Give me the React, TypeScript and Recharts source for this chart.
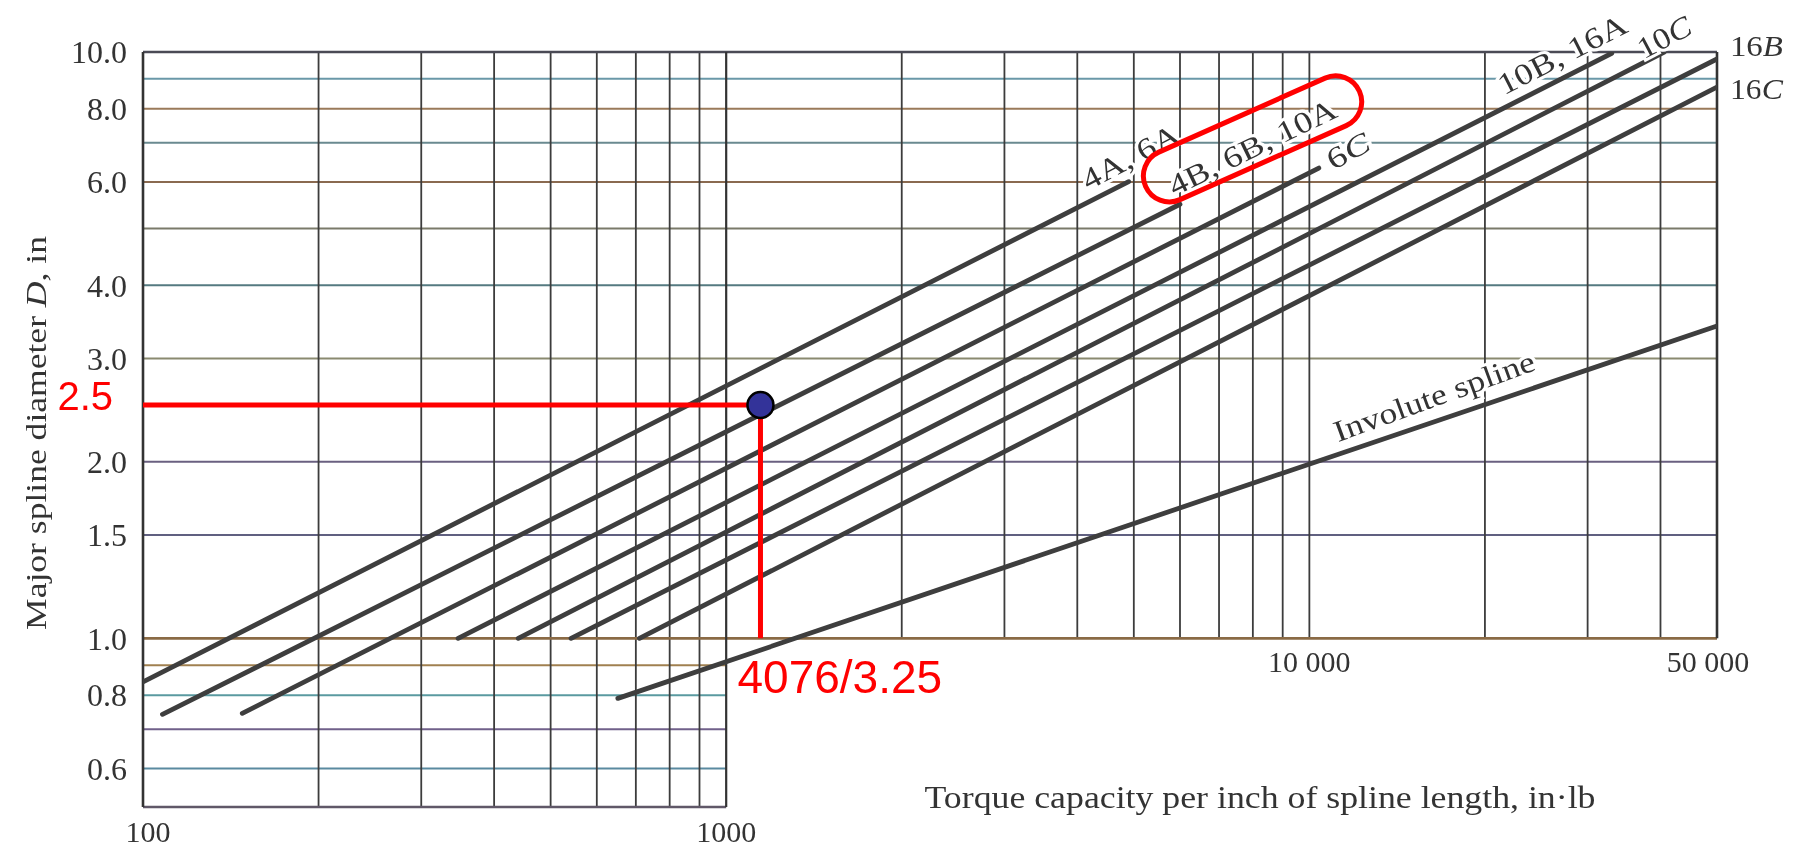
import { LineChart, Line, XAxis, YAxis, ReferenceLine, ReferenceDot } from "recharts";

// chart geometry
const W = 1780;
const H = 842;
const PLOT = { left: 135, top: 44, right: 1709, bottom: 799 };
const X_MIN = 100;
const X_MAX = 50000;
const Y_MIN = 0.5157;
const Y_MAX = 10;

const SERIF = '"Liberation Serif", "DejaVu Serif", serif';
const SANS = '"Liberation Sans", Arial, sans-serif';

// series (torque in·lb, diameter in)
const line4A6A = [{ x: 100, y: 0.843 }, { x: 4900, y: 6.01 }];
const line4B6B10A = [{ x: 108, y: 0.742 }, { x: 6000, y: 5.5 }];
const line6C = [{ x: 148, y: 0.745 }, { x: 10380, y: 6.34 }];
const line10B16A = [{ x: 347, y: 1.0 }, { x: 33000, y: 9.95 }];
const line10C = [{ x: 440, y: 1.0 }, { x: 40600, y: 10.0 }];
const line16B = [{ x: 542, y: 1.0 }, { x: 50000, y: 9.73 }];
const line16C = [{ x: 710, y: 1.0 }, { x: 50000, y: 8.71 }];
const involute = [{ x: 652, y: 0.79 }, { x: 50000, y: 3.41 }];

const seriesList = [line4A6A, line4B6B10A, line6C, line10B16A, line10C, line16B, line16C, involute];

// the worked example
const pointX = 1145;
const pointY = 2.5;

// axis ticks
const xTicks = [100, 1000, 10000, 50000];
const xTickLabels = ["100", "1000", "10 000", "50 000"];
const yTicks = [0.6, 0.8, 1, 1.5, 2, 3, 4, 6, 8, 10];

// grid
const upperH = [1.5, 2, 3, 4, 5, 6, 7, 8, 9];
const lowerH = [0.6, 0.7, 0.8, 0.9];
const fullV = [200, 300, 400, 500, 600, 700, 800, 900];
const upperV = [2000, 3000, 4000, 5000, 6000, 7000, 8000, 9000, 10000, 20000, 30000, 40000];

const hColor: Record<string, string> = {
  "0.6": "#5a8aa0",
  "0.7": "#70608a",
  "0.8": "#5a9aa0",
  "0.9": "#a08050",
  "1.5": "#606080",
  "2": "#6a6080",
  "3": "#8a8a70",
  "4": "#557a80",
  "5": "#7a7a6a",
  "6": "#8a6a50",
  "7": "#6a8a90",
  "8": "#9a7a5a",
  "9": "#6a98a8",
};

const y1Pix =
  PLOT.top + ((PLOT.bottom - PLOT.top) * Math.log10(Y_MAX / 1)) / Math.log10(Y_MAX / Y_MIN);

const XTick = (props: any) => {
  const { x, payload } = props;
  const i = xTicks.indexOf(payload.value);
  const upper = payload.value > 1000;
  const yy = upper ? y1Pix + 23 : PLOT.bottom + 24;
  const dx = payload.value === 100 ? 5 : payload.value === 50000 ? -9 : 0;
  return (
    <text x={x + dx} y={yy} dy="0.35em" textAnchor="middle" fontFamily={SERIF} fontSize={30} fill="#333">
      {xTickLabels[i]}
    </text>
  );
};

const YTick = (props: any) => {
  const { y, payload } = props;
  return (
    <text x={PLOT.left - 16} y={y} dy="0.35em" textAnchor="end" fontFamily={SERIF} fontSize={32} fill="#333">
      {Number(payload.value).toFixed(1)}
    </text>
  );
};

const YTitle = () => {
  const cx = 27.6;
  const cy = 425;
  return (
    <text
      x={cx}
      y={cy}
      dy="0.35em"
      transform={`rotate(-90 ${cx} ${cy})`}
      textAnchor="middle"
      fontFamily={SERIF}
      fontSize={30}
      fill="#333"
      textLength={394}
      lengthAdjust="spacingAndGlyphs"
    >
      Major spline diameter <tspan fontStyle="italic">D</tspan>, in
    </text>
  );
};

const XTitle = () => (
  <text
    x={1252}
    y={789}
    dy="0.35em"
    textAnchor="middle"
    fontFamily={SERIF}
    fontSize={31}
    fill="#333"
    textLength={671}
    lengthAdjust="spacingAndGlyphs"
  >
    Torque capacity per inch of spline length, in·lb
  </text>
);

type LineLabel = {
  parts: [string, boolean][];
  x: number;
  y: number;
  angle: number;
  len: number;
  anchor: "middle" | "start";
};

const lineLabels: LineLabel[] = [
  { parts: [["4A, 6A", false]], x: 4930, y: 6.63, angle: -28, len: 106, anchor: "middle" },
  { parts: [["4B, 6B, 10A", false]], x: 7975, y: 6.89, angle: -26, len: 183, anchor: "middle" },
  { parts: [["6", false], ["C", true]], x: 11645, y: 6.79, angle: -28, len: 45, anchor: "middle" },
  { parts: [["10B, 16A", false]], x: 27110, y: 9.92, angle: -27, len: 141, anchor: "middle" },
  { parts: [["10", false], ["C", true]], x: 40550, y: 10.61, angle: -28, len: 57, anchor: "middle" },
  { parts: [["16", false], ["B", true]], x: 52620, y: 10.24, angle: 0, len: 53, anchor: "start" },
  { parts: [["16", false], ["C", true]], x: 52620, y: 8.665, angle: 0, len: 53, anchor: "start" },
  { parts: [["Involute spline", false]], x: 16355, y: 2.59, angle: -20, len: 212, anchor: "middle" },
];

const seg = (x1: number, y1: number, x2: number, y2: number) => [
  { x: x1, y: y1 },
  { x: x2, y: y2 },
];

export default function App() {
  return (
    <div style={{ position: "fixed", left: 8, top: 8 }}>
      <LineChart
        width={W}
        height={H}
        margin={{ top: PLOT.top, left: PLOT.left - 60, right: W - PLOT.right, bottom: H - PLOT.bottom - 30 }}
      >
        <XAxis
          dataKey="x"
          type="number"
          scale="log"
          domain={[X_MIN, X_MAX]}
          allowDataOverflow
          ticks={xTicks}
          tick={(p: any) => <XTick {...p} />}
          axisLine={false}
          tickLine={false}
          height={30}
          label={<XTitle />}
        />
        <YAxis
          type="number"
          scale="log"
          domain={[Y_MIN, Y_MAX]}
          allowDataOverflow
          ticks={yTicks}
          tick={(p: any) => <YTick {...p} />}
          axisLine={false}
          tickLine={false}
          width={60}
          label={<YTitle />}
        />

        {/* grid */}
        {upperH.map((v) => (
          <ReferenceLine key={`uh${v}`} segment={seg(X_MIN, v, X_MAX, v)} stroke={hColor[String(v)]} strokeWidth={2} />
        ))}
        {lowerH.map((v) => (
          <ReferenceLine key={`lh${v}`} segment={seg(X_MIN, v, 1000, v)} stroke={hColor[String(v)]} strokeWidth={2} />
        ))}
        {fullV.map((v) => (
          <ReferenceLine key={`fv${v}`} segment={seg(v, Y_MIN, v, Y_MAX)} stroke="#3c3c3c" strokeWidth={1.8} />
        ))}
        {upperV.map((v) => (
          <ReferenceLine key={`uv${v}`} segment={seg(v, 1, v, Y_MAX)} stroke="#3c3c3c" strokeWidth={1.8} />
        ))}
        {/* frame */}
        <ReferenceLine segment={seg(X_MIN, Y_MAX, X_MAX, Y_MAX)} stroke="#4a4a55" strokeWidth={2.6} />
        <ReferenceLine segment={seg(X_MIN, 1, X_MAX, 1)} stroke="#8a6a45" strokeWidth={2.6} />
        <ReferenceLine segment={seg(X_MIN, Y_MIN, 1000, Y_MIN)} stroke="#605868" strokeWidth={2.6} />
        <ReferenceLine segment={seg(X_MIN, Y_MIN, X_MIN, Y_MAX)} stroke="#333" strokeWidth={2.6} />
        <ReferenceLine segment={seg(1000, Y_MIN, 1000, Y_MAX)} stroke="#333" strokeWidth={2.2} />
        <ReferenceLine segment={seg(X_MAX, 1, X_MAX, Y_MAX)} stroke="#333" strokeWidth={2.6} />

        {seriesList.map((d, i) => (
          <Line
            key={i}
            data={d}
            dataKey="y"
            type="linear"
            stroke="#3e3e3e"
            strokeWidth={4.8}
            strokeLinecap="round"
            dot={false}
            activeDot={false}
            isAnimationActive={false}
          />
        ))}

        {lineLabels.map((l, i) => (
          <ReferenceDot
            key={`lab${i}`}
            x={l.x}
            y={l.y}
            r={1}
            ifOverflow="visible"
            shape={(p: any) => (
              <text
                x={p.cx}
                y={p.cy}
                dy="0.35em"
                textAnchor={l.anchor}
                transform={`rotate(${l.angle} ${p.cx} ${p.cy})`}
                fontFamily={SERIF}
                fontSize={30}
                fill="#333"
                stroke="#fff"
                strokeWidth={6}
                paintOrder="stroke"
                textLength={l.len}
                lengthAdjust="spacingAndGlyphs"
              >
                {l.parts.map(([t, it], k) => (
                  <tspan key={k} fontStyle={it ? "italic" : "normal"}>
                    {t}
                  </tspan>
                ))}
              </text>
            )}
          />
        ))}

        {/* worked example in red */}
        <ReferenceLine segment={seg(X_MIN, pointY, pointX, pointY)} stroke="#ff0000" strokeWidth={5} />
        <ReferenceLine segment={seg(pointX, pointY, pointX, 1)} stroke="#ff0000" strokeWidth={5} />
        <ReferenceDot x={pointX} y={pointY} r={13} fill="#333399" stroke="#000" strokeWidth={2.5} />
        <ReferenceDot
          x={X_MIN}
          y={pointY}
          r={1}
          ifOverflow="visible"
          shape={(p: any) => (
            <text x={p.cx - 30} y={p.cy + 5} textAnchor="end" fontFamily={SANS} fontSize={40} fill="#ff0000">
              2.5
            </text>
          )}
        />
        <ReferenceDot
          x={pointX}
          y={1}
          r={1}
          ifOverflow="visible"
          shape={(p: any) => (
            <text x={p.cx - 23} y={p.cy + 55} textAnchor="start" fontFamily={SANS} fontSize={46} fill="#ff0000">
              4076/3.25
            </text>
          )}
        />
        <ReferenceDot
          x={7990}
          y={7.11}
          r={1}
          ifOverflow="visible"
          shape={(p: any) => (
            <rect
              x={p.cx - 117}
              y={p.cy - 26}
              width={234}
              height={52}
              rx={26}
              transform={`rotate(-24 ${p.cx} ${p.cy})`}
              fill="none"
              stroke="#ff0000"
              strokeWidth={5}
            />
          )}
        />
      </LineChart>
    </div>
  );
}
